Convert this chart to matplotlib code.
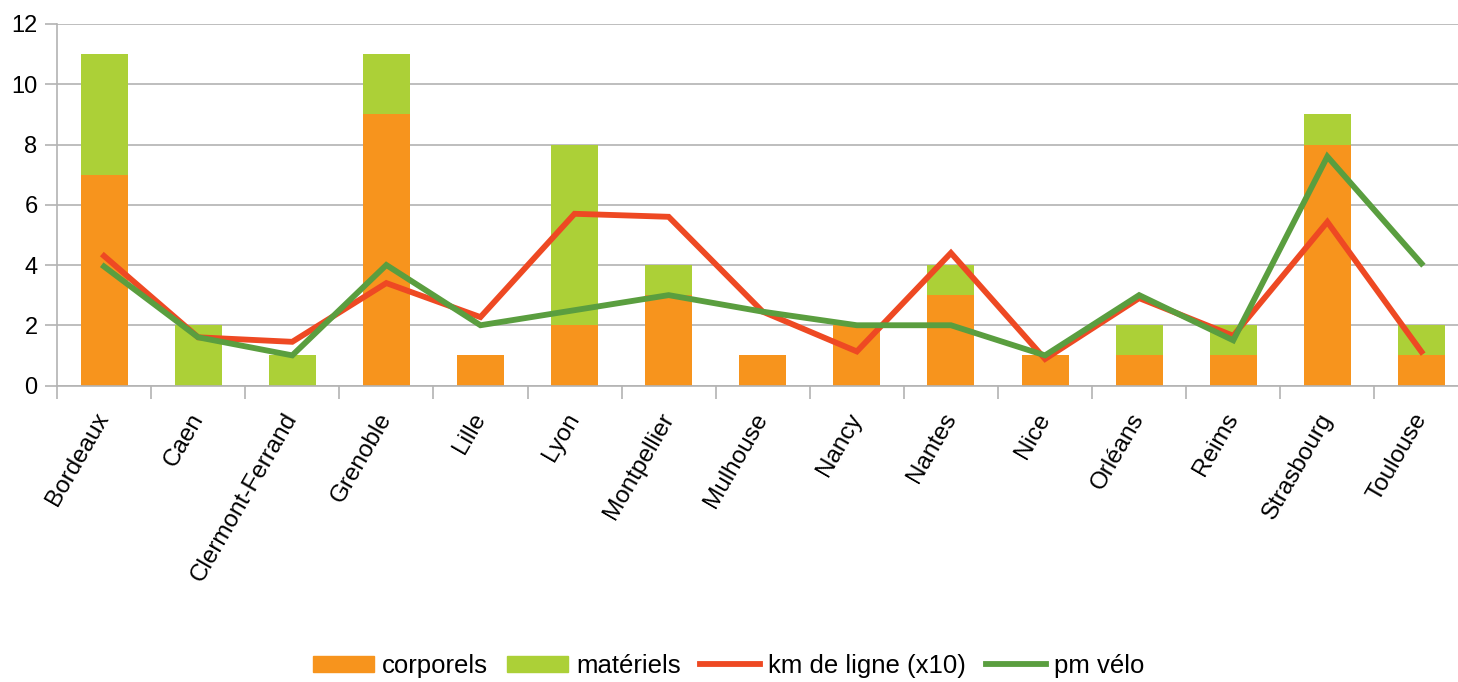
import matplotlib
matplotlib.use("Agg")
import matplotlib.pyplot as plt
from matplotlib.patches import Patch
from matplotlib.lines import Line2D
import numpy as np

cities = ["Bordeaux", "Caen", "Clermont-Ferrand", "Grenoble", "Lille", "Lyon",
          "Montpellier", "Mulhouse", "Nancy", "Nantes", "Nice", "Orléans",
          "Reims", "Strasbourg", "Toulouse"]
corporels = [7, 0, 0, 9, 1, 2, 3, 1, 2, 3, 1, 1, 1, 8, 1]
materiels = [4, 2, 1, 2, 0, 6, 1, 0, 0, 1, 0, 1, 1, 1, 1]
km_ligne = [4.3, 1.6, 1.45, 3.4, 2.27, 5.7, 5.6, 2.45, 1.13, 4.4, 0.88, 2.9, 1.65, 5.43, 1.12]
pm_velo = [3.95, 1.6, 1.0, 4.0, 2.0, 2.5, 3.0, 2.45, 2.0, 2.0, 1.0, 3.0, 1.5, 7.6, 4.05]
yticks = [0, 2, 4, 6, 8, 10, 12]

c_orange = "#f7941d"
c_lgreen = "#acd037"
c_red = "#ee4923"
c_dgreen = "#5a9e3f"

plt.rcParams["font.family"] = ["Liberation Sans", "DejaVu Sans"]

fig = plt.figure(figsize=(14.58, 6.82), dpi=100)
ax = fig.add_axes([57/1458, 1-385.5/682, (1468.5-57)/1458, (385.5-24)/682])

x = np.arange(len(cities))
ax.bar(x, corporels, width=0.5, color=c_orange, zorder=2)
ax.bar(x, materiels, width=0.5, bottom=corporels, color=c_lgreen, zorder=2)
ax.plot(x, km_ligne, color=c_red, lw=4.2, zorder=3, solid_joinstyle="miter")
ax.plot(x, pm_velo, color=c_dgreen, lw=4.2, zorder=4, solid_joinstyle="miter")

ax.set_xlim(-0.5, len(cities) - 0.5)
ax.set_ylim(0, 12)
ax.set_yticks(yticks)
ax.set_yticklabels([str(t) for t in yticks], fontsize=17)
ax.yaxis.grid(True, color="#b3b3b3", lw=1.2, zorder=0)
ax.set_axisbelow(True)

ax.set_xticks(x)
ax.set_xticklabels(cities, rotation=60, ha="right", va="center",
                   rotation_mode="anchor", fontsize=17.5)
ax.tick_params(axis="x", length=0, pad=21)
ax.set_xticks(np.arange(len(cities) + 1) - 0.5, minor=True)
ax.tick_params(axis="x", which="minor", length=9, width=1.2, color="#b3b3b3")
ax.tick_params(axis="y", length=9, width=1.2, color="#b3b3b3", pad=5)

for s in ["top", "right"]:
    ax.spines[s].set_visible(False)
for s in ["left", "bottom"]:
    ax.spines[s].set_color("#b3b3b3")
    ax.spines[s].set_linewidth(1.2)

handles = [Patch(color=c_orange, label="corporels"),
           Patch(color=c_lgreen, label="matériels"),
           Line2D([], [], color=c_red, lw=4.2, label="km de ligne (x10)"),
           Line2D([], [], color=c_dgreen, lw=4.2, label="pm vélo")]
fig.legend(handles=handles, loc="center", bbox_to_anchor=(0.5, 1-666/682), ncol=4,
           frameon=False, fontsize=18.5, handlelength=2.35, handleheight=0.58,
           handletextpad=0.32, columnspacing=0.75)

fig.savefig("out.png", dpi=100)
